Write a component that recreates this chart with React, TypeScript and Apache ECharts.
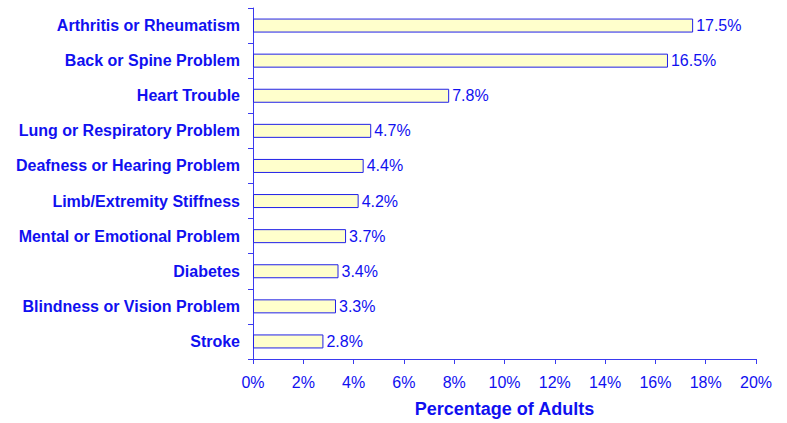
import React, { useEffect, useRef } from "react";
import * as echarts from "echarts";

const categories = [
  "Arthritis or Rheumatism",
  "Back or Spine Problem",
  "Heart Trouble",
  "Lung or Respiratory Problem",
  "Deafness or Hearing Problem",
  "Limb/Extremity Stiffness",
  "Mental or Emotional Problem",
  "Diabetes",
  "Blindness or Vision Problem",
  "Stroke",
];
const values = [17.5, 16.5, 7.8, 4.7, 4.4, 4.2, 3.7, 3.4, 3.3, 2.8];
const axisTitle = "Percentage of Adults";

const BLUE = "#1010f0";
const FONT = "'Liberation Sans', Arial, sans-serif";

export default function App() {
  const ref = useRef<HTMLDivElement>(null);
  useEffect(() => {
    if (!ref.current) return;
    const chart = echarts.init(ref.current, null, { renderer: "svg" });
    chart.setOption({
      animation: false,
      grid: { left: 253, right: 31, top: 8, bottom: 62, containLabel: false },
      xAxis: {
        type: "value",
        min: 0,
        max: 20,
        interval: 2,
        name: axisTitle,
        nameLocation: "middle",
        nameGap: 41,
        nameTextStyle: { color: BLUE, fontFamily: FONT, fontWeight: "bold", fontSize: 18 },
        axisLine: { show: true, lineStyle: { color: "#3a3af0", width: 1 } },
        axisTick: { show: true, length: 5, lineStyle: { color: "#3a3af0" } },
        axisLabel: {
          color: BLUE,
          fontFamily: FONT,
          fontSize: 16,
          margin: 15,
          formatter: (v: number) => v + "%",
        },
        splitLine: { show: false },
      },
      yAxis: {
        type: "category",
        data: categories,
        inverse: true,
        axisLine: { show: true, lineStyle: { color: "#3a3af0", width: 1 } },
        axisTick: { show: true, length: 5, lineStyle: { color: "#3a3af0" } },
        axisLabel: {
          color: BLUE,
          fontFamily: FONT,
          fontWeight: "bold",
          fontSize: 16,
          margin: 13,
        },
      },
      series: [
        {
          type: "bar",
          data: values,
          barWidth: 14,
          itemStyle: { color: "#ffffcc", borderColor: "#2020e8", borderWidth: 1 },
          label: {
            show: true,
            position: "right",
            distance: 3,
            color: BLUE,
            fontFamily: FONT,
            fontSize: 16,
            formatter: (p: any) => p.value.toFixed(1) + "%",
          },
        },
      ],
    });
    return () => chart.dispose();
  }, []);
  return (
    <div
      ref={ref}
      style={{ position: "absolute", left: 0, top: 0, width: 787, height: 423 }}
    />
  );
}
